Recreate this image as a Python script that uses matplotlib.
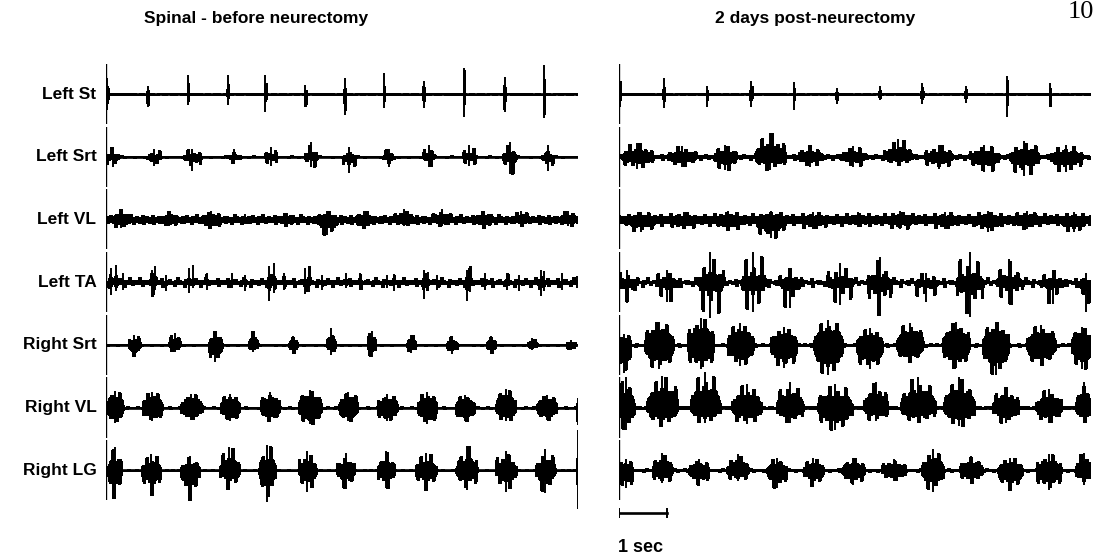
import numpy as np
import matplotlib.pyplot as plt

plt.rcParams["font.family"] = ["Liberation Sans", "DejaVu Sans"]

muscles = ["Left St", "Left Srt", "Left VL", "Left TA", "Right Srt", "Right VL", "Right LG"]
panel_titles = ["Spinal - before neurectomy", "2 days post-neurectomy"]
record_len = 9.83  # seconds shown in each panel

# bursts: centre (s), duration (s), peak above / below baseline (fraction of trace spacing)
# --- spinal, before neurectomy
pre_lst_t = [0.02, 0.87, 1.71, 2.54, 3.32, 4.15, 4.97, 5.79, 6.62, 7.46, 8.30, 9.12]
pre_lst_d = [0.05, 0.05, 0.03, 0.04, 0.03, 0.05, 0.03, 0.03, 0.05, 0.03, 0.03, 0.03]
pre_lst_up = [0.25, 0.13, 0.31, 0.31, 0.31, 0.14, 0.25, 0.33, 0.21, 0.41, 0.27, 0.46]
pre_lst_dn = [0.25, 0.20, 0.18, 0.17, 0.28, 0.19, 0.34, 0.23, 0.22, 0.36, 0.28, 0.38]

pre_lsrt_t = [0.14, 0.99, 1.80, 2.66, 3.43, 4.27, 5.07, 5.89, 6.73, 7.57, 8.41, 9.20]
pre_lsrt_d = [0.30, 0.32, 0.36, 0.32, 0.25, 0.28, 0.28, 0.26, 0.26, 0.30, 0.30, 0.26]
pre_lsrt_up = [0.15, 0.13, 0.13, 0.12, 0.15, 0.24, 0.15, 0.13, 0.18, 0.18, 0.24, 0.18]
pre_lsrt_dn = [0.17, 0.15, 0.23, 0.12, 0.15, 0.17, 0.26, 0.17, 0.17, 0.15, 0.28, 0.23]

pre_lvl_t = [0.31, 1.31, 2.18, 2.90, 3.76, 4.61, 5.37, 6.21, 7.00, 7.88, 8.64, 9.63]
pre_lvl_d = [0.40, 0.36, 0.40, 0.36, 0.40, 0.44, 0.36, 0.44, 0.44, 0.40, 0.36, 0.40]
pre_lvl_up = [0.16, 0.14, 0.14, 0.08, 0.11, 0.14, 0.14, 0.16, 0.16, 0.14, 0.14, 0.14]
pre_lvl_dn = [0.14, 0.11, 0.16, 0.07, 0.11, 0.25, 0.16, 0.11, 0.11, 0.14, 0.11, 0.11]

pre_lta_t = [0.10, 0.20, 0.35, 0.95, 1.02, 1.25, 1.72, 1.82, 2.10, 2.62, 2.90, 3.40, 3.50,
             3.70, 4.15, 4.22, 4.50, 5.00, 5.30, 5.85, 6.00, 6.62, 6.70, 6.90, 7.52, 7.58,
             7.90, 8.35, 8.60, 9.05, 9.12, 9.50, 9.80]
pre_lta_d = [0.08, 0.06, 0.05, 0.10, 0.06, 0.05, 0.08, 0.06, 0.05, 0.10, 0.05, 0.08, 0.06,
             0.05, 0.08, 0.06, 0.05, 0.10, 0.05, 0.10, 0.05, 0.08, 0.06, 0.05, 0.08, 0.06,
             0.05, 0.10, 0.05, 0.08, 0.06, 0.05, 0.04]
pre_lta_up = [0.22, 0.28, 0.14, 0.20, 0.25, 0.12, 0.22, 0.28, 0.15, 0.14, 0.12, 0.25, 0.30,
              0.14, 0.22, 0.26, 0.12, 0.14, 0.15, 0.12, 0.13, 0.20, 0.16, 0.12, 0.20, 0.26,
              0.14, 0.14, 0.12, 0.20, 0.18, 0.15, 0.10]
pre_lta_dn = [0.20, 0.14, 0.12, 0.22, 0.12, 0.14, 0.17, 0.10, 0.12, 0.10, 0.14, 0.30, 0.18,
              0.12, 0.19, 0.15, 0.13, 0.10, 0.12, 0.10, 0.14, 0.27, 0.14, 0.12, 0.30, 0.16,
              0.12, 0.12, 0.14, 0.22, 0.14, 0.12, 0.10]

pre_rsrt_t = [0.59, 1.43, 2.28, 3.07, 3.90, 4.69, 5.53, 6.36, 7.21, 8.02, 8.88, 9.69]
pre_rsrt_d = [0.25, 0.25, 0.28, 0.20, 0.18, 0.18, 0.18, 0.18, 0.22, 0.20, 0.22, 0.20]
pre_rsrt_up = [0.16, 0.19, 0.22, 0.22, 0.14, 0.26, 0.22, 0.16, 0.14, 0.14, 0.11, 0.08]
pre_rsrt_dn = [0.18, 0.11, 0.27, 0.11, 0.14, 0.16, 0.19, 0.13, 0.14, 0.14, 0.08, 0.08]

pre_rvl_t = [0.18, 0.96, 1.78, 2.58, 3.42, 4.25, 5.05, 5.86, 6.69, 7.48, 8.33, 9.18, 9.82]
pre_rvl_d = [0.35, 0.42, 0.45, 0.40, 0.40, 0.48, 0.40, 0.42, 0.40, 0.40, 0.42, 0.42, 0.02]
pre_rvl_up = [0.27, 0.25, 0.22, 0.22, 0.25, 0.28, 0.25, 0.22, 0.25, 0.20, 0.30, 0.20, 0.15]
pre_rvl_dn = [0.25, 0.22, 0.20, 0.22, 0.22, 0.27, 0.22, 0.22, 0.27, 0.22, 0.22, 0.20, 0.28]

pre_rlg_t = [0.18, 0.94, 1.75, 2.57, 3.36, 4.19, 4.99, 5.83, 6.66, 7.51, 8.33, 9.15, 9.82]
pre_rlg_d = [0.30, 0.40, 0.40, 0.42, 0.35, 0.38, 0.37, 0.36, 0.44, 0.44, 0.44, 0.41, 0.02]
pre_rlg_up = [0.37, 0.26, 0.23, 0.37, 0.40, 0.31, 0.28, 0.31, 0.28, 0.39, 0.31, 0.34, 0.64]
pre_rlg_dn = [0.45, 0.40, 0.48, 0.30, 0.51, 0.34, 0.30, 0.29, 0.32, 0.32, 0.34, 0.37, 0.62]

# --- 2 days post-neurectomy
post_lst_t = [0.02, 0.93, 1.83, 2.75, 3.65, 4.53, 5.43, 6.31, 7.22, 8.08, 8.98]
post_lst_d = [0.04, 0.03, 0.03, 0.05, 0.03, 0.05, 0.05, 0.05, 0.03, 0.03, 0.04]
post_lst_up = [0.20, 0.26, 0.13, 0.21, 0.19, 0.10, 0.12, 0.17, 0.13, 0.29, 0.18]
post_lst_dn = [0.20, 0.23, 0.20, 0.20, 0.26, 0.16, 0.10, 0.16, 0.15, 0.36, 0.19]

post_lsrt_t = [0.38, 1.31, 2.21, 3.15, 3.98, 4.88, 5.81, 6.66, 7.61, 8.44, 9.31]
post_lsrt_d = [0.65, 0.62, 0.50, 0.65, 0.55, 0.55, 0.62, 0.60, 0.62, 0.62, 0.68]
post_lsrt_up = [0.22, 0.17, 0.19, 0.38, 0.19, 0.17, 0.28, 0.19, 0.19, 0.25, 0.19]
post_lsrt_dn = [0.19, 0.16, 0.22, 0.22, 0.16, 0.16, 0.14, 0.19, 0.25, 0.30, 0.25]

post_lvl_t = [0.45, 1.35, 2.28, 3.16, 4.05, 4.98, 5.85, 6.78, 7.68, 8.49, 9.48]
post_lvl_d = [0.68, 0.65, 0.60, 0.65, 0.65, 0.60, 0.65, 0.60, 0.60, 0.62, 0.60]
post_lvl_up = [0.12, 0.12, 0.14, 0.14, 0.12, 0.12, 0.14, 0.12, 0.14, 0.14, 0.12]
post_lvl_dn = [0.20, 0.16, 0.18, 0.30, 0.16, 0.12, 0.16, 0.16, 0.20, 0.16, 0.20]

post_lta_t = [0.17, 1.00, 1.90, 2.80, 3.56, 4.60, 5.43, 6.40, 7.30, 8.13, 9.03, 9.72]
post_lta_d = [0.45, 0.50, 0.55, 0.55, 0.50, 0.55, 0.50, 0.50, 0.55, 0.55, 0.50, 0.30]
post_lta_up = [0.20, 0.20, 0.48, 0.48, 0.22, 0.30, 0.40, 0.15, 0.48, 0.37, 0.20, 0.15]
post_lta_dn = [0.33, 0.31, 0.58, 0.48, 0.42, 0.37, 0.53, 0.31, 0.56, 0.35, 0.35, 0.48]

post_rsrt_t = [0.10, 0.83, 1.70, 2.53, 3.43, 4.36, 5.22, 6.06, 7.02, 7.85, 8.79, 9.65]
post_rsrt_d = [0.30, 0.60, 0.55, 0.55, 0.55, 0.60, 0.55, 0.55, 0.55, 0.55, 0.60, 0.45]
post_rsrt_up = [0.18, 0.37, 0.43, 0.35, 0.29, 0.40, 0.26, 0.35, 0.37, 0.37, 0.32, 0.29]
post_rsrt_dn = [0.45, 0.39, 0.39, 0.34, 0.37, 0.48, 0.39, 0.28, 0.37, 0.48, 0.34, 0.39]

post_rvl_t = [0.14, 0.90, 1.80, 2.66, 3.56, 4.50, 5.35, 6.23, 7.09, 8.05, 8.95, 9.69]
post_rvl_d = [0.35, 0.65, 0.62, 0.62, 0.55, 0.72, 0.50, 0.72, 0.65, 0.55, 0.55, 0.35]
post_rvl_up = [0.48, 0.50, 0.56, 0.37, 0.40, 0.37, 0.40, 0.48, 0.48, 0.32, 0.29, 0.40]
post_rvl_dn = [0.36, 0.30, 0.25, 0.27, 0.25, 0.36, 0.22, 0.25, 0.30, 0.25, 0.25, 0.25]

post_rlg_t = [0.14, 0.90, 1.66, 2.47, 3.29, 4.05, 4.88, 5.72, 6.53, 7.34, 8.15, 8.95, 9.69]
post_rlg_d = [0.30, 0.42, 0.42, 0.45, 0.42, 0.42, 0.48, 0.50, 0.45, 0.48, 0.52, 0.52, 0.35]
post_rlg_up = [0.18, 0.28, 0.18, 0.26, 0.20, 0.19, 0.20, 0.18, 0.34, 0.23, 0.20, 0.26, 0.28]
post_rlg_dn = [0.29, 0.21, 0.23, 0.18, 0.29, 0.25, 0.23, 0.18, 0.34, 0.21, 0.32, 0.32, 0.23]

# background activity between bursts and how spiky (vs. solid) each burst is
pre_tonic = [0.015, 0.02, 0.08, 0.08, 0.015, 0.02, 0.02]
post_tonic = [0.015, 0.05, 0.10, 0.08, 0.03, 0.03, 0.03]
pre_spiky = [1.0, 2.0, 1.0, 1.8, 1.0, 0.7, 1.3]
post_spiky = [1.0, 1.3, 1.0, 2.2, 0.8, 1.0, 1.0]

# height of the marker bar at the start of each trace
start_bar = 0.48

# fixed pattern used for the ragged look of the raw EMG (each value held for 2 px)
JAG = [0.5, 0.62, 0.45, 1.0, 0.55, 0.5, 0.66, 0.4, 0.56, 0.86, 0.5, 0.6, 0.44, 0.56,
       0.95, 0.5, 0.4, 0.62, 0.72, 0.5, 0.45, 0.55, 1.0, 0.6, 0.5, 0.4, 0.76, 0.55, 0.5,
       0.6, 0.45, 0.9, 0.55]

pre = [(pre_lst_t, pre_lst_d, pre_lst_up, pre_lst_dn),
       (pre_lsrt_t, pre_lsrt_d, pre_lsrt_up, pre_lsrt_dn),
       (pre_lvl_t, pre_lvl_d, pre_lvl_up, pre_lvl_dn),
       (pre_lta_t, pre_lta_d, pre_lta_up, pre_lta_dn),
       (pre_rsrt_t, pre_rsrt_d, pre_rsrt_up, pre_rsrt_dn),
       (pre_rvl_t, pre_rvl_d, pre_rvl_up, pre_rvl_dn),
       (pre_rlg_t, pre_rlg_d, pre_rlg_up, pre_rlg_dn)]
post = [(post_lst_t, post_lst_d, post_lst_up, post_lst_dn),
        (post_lsrt_t, post_lsrt_d, post_lsrt_up, post_lsrt_dn),
        (post_lvl_t, post_lvl_d, post_lvl_up, post_lvl_dn),
        (post_lta_t, post_lta_d, post_lta_up, post_lta_dn),
        (post_rsrt_t, post_rsrt_d, post_rsrt_up, post_rsrt_dn),
        (post_rvl_t, post_rvl_d, post_rvl_up, post_rvl_dn),
        (post_rlg_t, post_rlg_d, post_rlg_up, post_rlg_dn)]


def draw_trace(ax, y0, bursts, tonic, spiky, shift):
    t, d, up, dn = [np.asarray(v) for v in bursts]
    xs = np.arange(0, record_len, 1 / 48)
    n = len(xs)
    pattern = np.roll(np.resize(np.repeat(JAG, 2), n), shift)
    jag_up = pattern ** spiky
    jag_dn = np.roll(pattern, 23) ** spiky
    env_up = np.full(n, tonic)
    env_dn = np.full(n, tonic)
    for c, w, a, b in zip(t, d, up, dn):
        u = np.clip(np.abs(xs - c) / (w / 2), 0, 1)
        shape = np.cos(u * np.pi / 2) ** 0.3
        env_up = np.maximum(env_up, a * shape)
        env_dn = np.maximum(env_dn, b * shape)
    ax.plot([0, record_len], [y0, y0], color="k", lw=1.9, solid_capstyle="butt")
    ax.vlines(xs, y0 - env_dn * jag_dn, y0 + env_up * jag_up, color="k", lw=0.75,
              antialiased=False)
    # tallest spike of every burst
    ax.vlines(t, y0 - dn, y0 + up, color="k", lw=1.4)
    ax.vlines(0, y0 - start_bar, y0 + start_bar, color="k", lw=1.7)


fig = plt.figure(figsize=(10.93, 5.56), dpi=100)
W, H = 1093, 556
top_px, row_px = 94, 62.7
for k, (x0, traces, tonic, spiky) in enumerate([(106, pre, pre_tonic, pre_spiky),
                                                (619, post, post_tonic, post_spiky)]):
    ax = fig.add_axes([x0 / W, 0, 472 / W, 1])
    ax.set_xlim(0, record_len)
    ax.set_ylim(-(H - top_px) / row_px, top_px / row_px)
    ax.axis("off")
    for i, bursts in enumerate(traces):
        draw_trace(ax, -i, bursts, tonic[i], spiky[i], 9 * i + 5 * k)
    if k == 0:
        for i, name in enumerate(muscles):
            ax.text(-0.2, -i, name, ha="right", va="center", fontsize=12.5,
                    fontweight="bold")
    else:
        # 1 s calibration bar
        yb = -(513 - top_px) / row_px
        ax.plot([0, 1], [yb, yb], color="k", lw=1.9)
        ax.vlines([0, 1], yb - 0.08, yb + 0.08, color="k", lw=1.4)
        ax.text(-0.03, -(547 - top_px) / row_px, "1 sec", ha="left", va="center",
                fontsize=13, fontweight="bold")

fig.text(256 / W, 1 - 18 / H, panel_titles[0], ha="center", va="center", fontsize=12.5,
         fontweight="bold")
fig.text(815 / W, 1 - 18 / H, panel_titles[1], ha="center", va="center", fontsize=12.5,
         fontweight="bold")
fig.text(1068 / W, 1 - 18 / H, "10", ha="left", va="baseline", fontsize=19,
         family="Liberation Serif")

fig.savefig("out.png", dpi=100)
